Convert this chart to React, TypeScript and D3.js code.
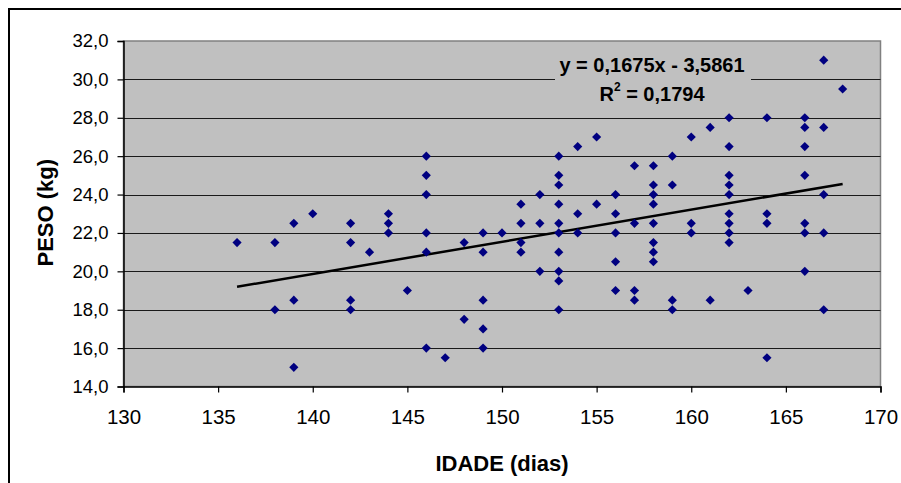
import { useEffect, useRef } from 'react';
import * as d3 from 'd3';

// IDADE (dias) and PESO (kg), one entry per animal
const idade = [
  136,
  138, 138,
  139, 139, 139,
  140,
  142, 142, 142, 142,
  143,
  144, 144, 144,
  145,
  146, 146, 146, 146, 146, 146,
  147,
  148, 148,
  149, 149, 149, 149, 149,
  150,
  151, 151, 151, 151,
  152, 152, 152,
  153, 153, 153, 153, 153, 153, 153, 153, 153, 153,
  154, 154, 154,
  155, 155,
  156, 156, 156, 156, 156,
  157, 157, 157, 157,
  158, 158, 158, 158, 158, 158, 158, 158,
  159, 159, 159, 159,
  160, 160, 160,
  161, 161,
  162, 162, 162, 162, 162, 162, 162, 162, 162,
  163,
  164, 164, 164, 164,
  166, 166, 166, 166, 166, 166, 166,
  167, 167, 167, 167, 167,
  168,
];

const peso = [
  21.5,
  21.5, 18.0,
  22.5, 18.5, 15.0,
  23.0,
  22.5, 21.5, 18.5, 18.0,
  21.0,
  23.0, 22.5, 22.0,
  19.0,
  26.0, 25.0, 24.0, 22.0, 21.0, 16.0,
  15.5,
  21.5, 17.5,
  22.0, 21.0, 18.5, 17.0, 16.0,
  22.0,
  23.5, 22.5, 21.5, 21.0,
  24.0, 22.5, 20.0,
  26.0, 25.0, 24.5, 23.5, 22.5, 22.0, 21.0, 20.0, 19.5, 18.0,
  26.5, 23.0, 22.0,
  27.0, 23.5,
  24.0, 23.0, 22.0, 20.5, 19.0,
  25.5, 22.5, 19.0, 18.5,
  25.5, 24.5, 24.0, 23.5, 22.5, 21.5, 21.0, 20.5,
  26.0, 24.5, 18.5, 18.0,
  27.0, 22.5, 22.0,
  27.5, 18.5,
  28.0, 26.5, 25.0, 24.5, 24.0, 23.0, 22.5, 22.0, 21.5,
  19.0,
  28.0, 23.0, 22.5, 15.5,
  28.0, 27.5, 26.5, 25.0, 22.5, 22.0, 20.0,
  31.0, 27.5, 24.0, 22.0, 18.0,
  29.5,
];

const xTicks = [130, 135, 140, 145, 150, 155, 160, 165, 170];
const yTicks = [14, 16, 18, 20, 22, 24, 26, 28, 30, 32];

// linear trend from the spreadsheet
const slope = 0.1675;
const intercept = -3.5861;
const r2Text = '0,1794';

const fmt = (v: number) => v.toFixed(1).replace('.', ',');

export default function App() {
  const svgRef = useRef<SVGSVGElement>(null);
  const width = 901;
  const height = 483;

  useEffect(() => {
    const svg = d3.select(svgRef.current);
    svg.selectAll('*').remove();

    const plot = { left: 123.5, right: 880.5, top: 41, bottom: 386.5 };
    const font = "'Liberation Sans', Arial, sans-serif";

    const x = d3.scaleLinear().domain([130, 170]).range([plot.left, plot.right]);
    const y = d3.scaleLinear().domain([14, 32]).range([plot.bottom, plot.top]);

    // outer frame (runs off the right and bottom edges)
    svg.append('rect')
      .attr('x', 9)
      .attr('y', 9)
      .attr('width', width + 20)
      .attr('height', height + 20)
      .attr('fill', 'white')
      .attr('stroke', '#000')
      .attr('stroke-width', 2);

    // plot background
    svg.append('rect')
      .attr('x', plot.left)
      .attr('y', plot.top)
      .attr('width', plot.right - plot.left)
      .attr('height', plot.bottom - plot.top)
      .attr('fill', '#c0c0c0')
      .attr('stroke', '#808080')
      .attr('stroke-width', 1.5);

    // horizontal grid
    svg.append('g')
      .selectAll('line')
      .data(yTicks.filter(t => t > 14 && t < 32))
      .enter()
      .append('line')
      .attr('x1', plot.left)
      .attr('x2', plot.right)
      .attr('y1', d => Math.round(y(d)) + 0.5)
      .attr('y2', d => Math.round(y(d)) + 0.5)
      .attr('stroke', '#1a1a1a')
      .attr('stroke-width', 1);

    // y axis
    const yAxis = svg.append('g')
      .attr('transform', `translate(${plot.left},0)`)
      .call(d3.axisLeft(y).tickValues(yTicks).tickSize(6).tickPadding(9).tickFormat(d => fmt(+d)));
    yAxis.select('.domain').attr('stroke', '#000').attr('stroke-width', 1.5);
    yAxis.selectAll('line').attr('stroke', '#000').attr('stroke-width', 1.2);
    yAxis.selectAll('text')
      .attr('font-family', font)
      .attr('font-size', '18.5px')
      .attr('fill', '#000');

    // x axis
    const xAxis = svg.append('g')
      .attr('transform', `translate(0,${plot.bottom})`)
      .call(d3.axisBottom(x).tickValues(xTicks).tickSize(6).tickPadding(17).tickFormat(d => String(d)));
    xAxis.select('.domain').attr('stroke', '#000').attr('stroke-width', 1.5);
    xAxis.selectAll('line').attr('stroke', '#000').attr('stroke-width', 1.2);
    xAxis.selectAll('text')
      .attr('font-family', font)
      .attr('font-size', '20.5px')
      .attr('fill', '#000');

    // trend line
    const trendX = [d3.min(idade) as number, d3.max(idade) as number];
    const line = d3.line<number>()
      .x(d => x(d))
      .y(d => y(slope * d + intercept));
    svg.append('path')
      .datum(trendX)
      .attr('fill', 'none')
      .attr('stroke', '#000')
      .attr('stroke-width', 2.5)
      .attr('d', line);

    // points
    const diamond = d3.symbol().type(d3.symbolSquare).size(42);
    svg.append('g')
      .selectAll('path')
      .data(idade.map((d, i) => [d, peso[i]]))
      .enter()
      .append('path')
      .attr('d', diamond)
      .attr('transform', d => `translate(${x(d[0])},${y(d[1])}) rotate(45)`)
      .attr('fill', '#000080');

    // equation label
    svg.append('rect')
      .attr('x', 555)
      .attr('y', 52)
      .attr('width', 196)
      .attr('height', 54)
      .attr('fill', '#c0c0c0');

    const eq = svg.append('g')
      .attr('font-family', font)
      .attr('font-weight', 'bold')
      .attr('font-size', '20px')
      .attr('fill', '#000')
      .attr('text-anchor', 'middle');

    eq.append('text')
      .attr('x', 652)
      .attr('y', 71.5)
      .text(`y = ${String(slope).replace('.', ',')}x - ${String(-intercept).replace('.', ',')}`);

    const r2 = eq.append('text')
      .attr('x', 652)
      .attr('y', 101);
    r2.append('tspan').text('R');
    r2.append('tspan').attr('font-size', '12px').attr('dy', -10).text('2');
    r2.append('tspan').attr('dy', 10).text(` = ${r2Text}`);

    // axis titles
    svg.append('text')
      .attr('transform', `translate(52.5,${(plot.top + plot.bottom) / 2 - 1}) rotate(-90)`)
      .attr('text-anchor', 'middle')
      .attr('font-family', font)
      .attr('font-weight', 'bold')
      .attr('font-size', '22px')
      .attr('fill', '#000')
      .text('PESO (kg)');

    svg.append('text')
      .attr('x', (plot.left + plot.right) / 2)
      .attr('y', 471)
      .attr('text-anchor', 'middle')
      .attr('font-family', font)
      .attr('font-weight', 'bold')
      .attr('font-size', '22px')
      .attr('fill', '#000')
      .text('IDADE (dias)');
  }, []);

  return (
    <svg
      ref={svgRef}
      width={width}
      height={height}
      style={{ position: 'absolute', left: 0, top: 0, display: 'block', background: 'white' }}
    />
  );
}
